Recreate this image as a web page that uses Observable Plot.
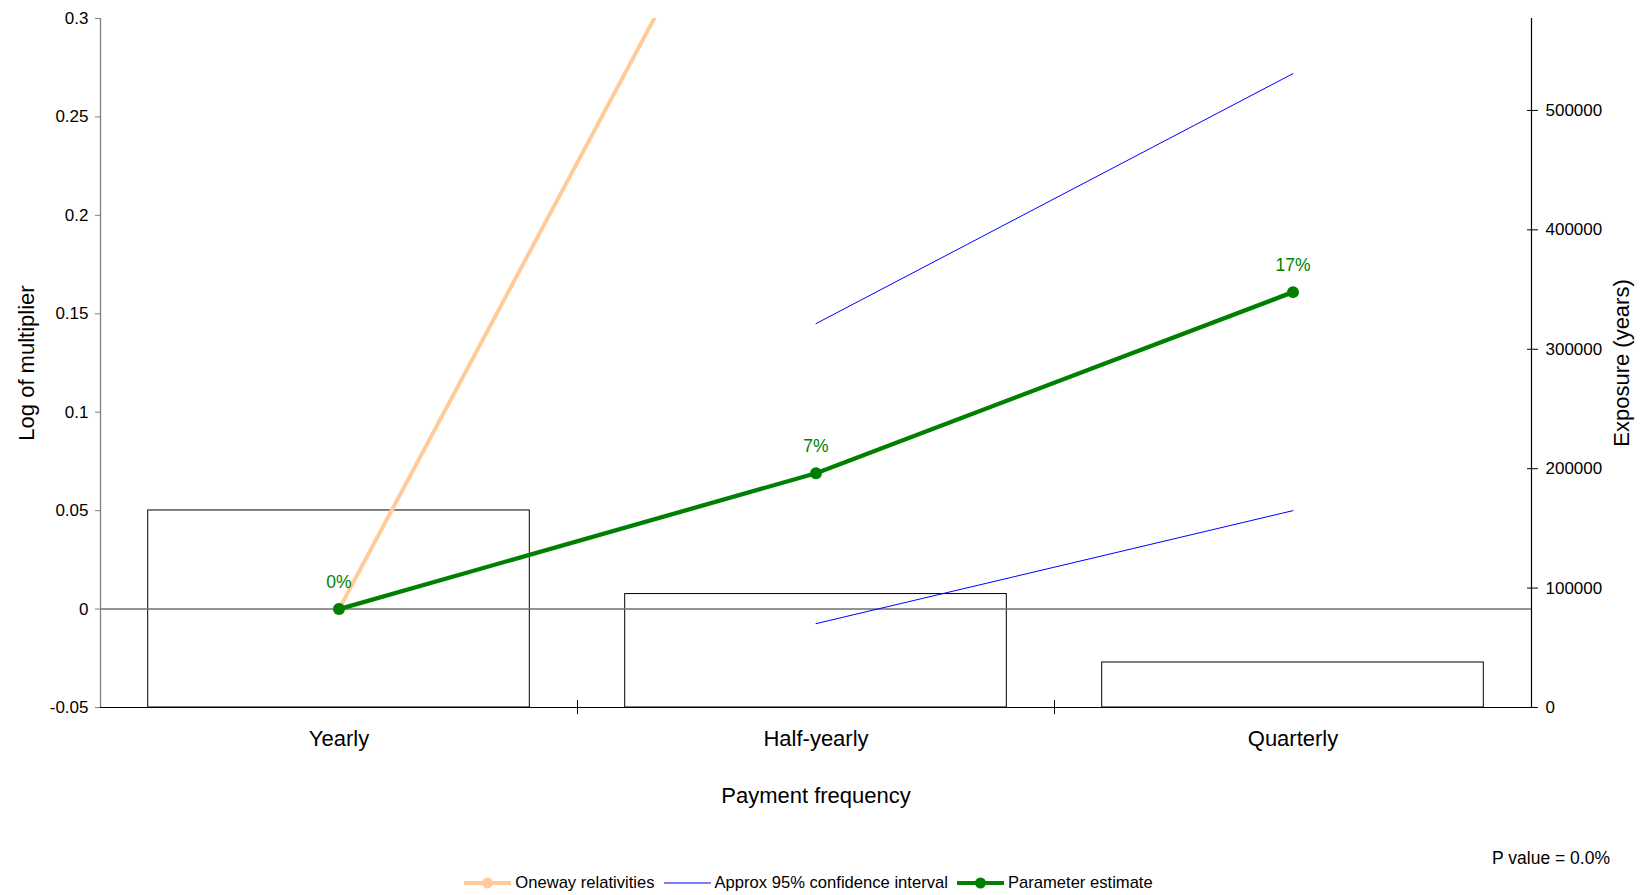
<!DOCTYPE html>
<html>
<head>
<meta charset="utf-8">
<script src="https://cdn.jsdelivr.net/npm/d3@7"></script>
<script src="https://cdn.jsdelivr.net/npm/@observablehq/plot@0.6"></script>
<style>
  body { margin: 0; background: #fff; font-family: "Liberation Sans", Arial, sans-serif; }
  #wrap { position: relative; width: 1642px; height: 895px; overflow: hidden; }
  #chart { position: absolute; left: 0; top: 0; }
  #legend { position: absolute; left: 0; top: 872px; width: 1626px; height: 22px;
            display: flex; justify-content: center; align-items: center; font-size: 16.6px; color: #000; }
  #legend .item { display: flex; align-items: center; margin-right: 9px; }
  #legend svg { margin-right: 4px; }
  #pvalue { position: absolute; right: 32px; top: 848px; font-size: 17.5px; color: #000; }
</style>
</head>
<body>
<div id="wrap">
  <div id="chart"></div>
  <div id="pvalue">P value = 0.0%</div>
  <div id="legend"></div>
</div>
<script>
// ---- data ----
const categories = ["Yearly", "Half-yearly", "Quarterly"];
const exposure = [165000, 95000, 37700];
const parameterEstimate = [0, 0.069, 0.161];
const paramLabels = ["0%", "7%", "17%"];
const ciLower = [null, -0.0074, 0.05];
const ciUpper = [null, 0.145, 0.272];
const onewayRel = [0, 0.454, 0.62];
const leftTicks = [-0.05, 0, 0.05, 0.1, 0.15, 0.2, 0.25, 0.3];
const rightTicks = [0, 100000, 200000, 300000, 400000, 500000];
const seriesNames = ["Oneway relativities", "Approx 95% confidence interval", "Parameter estimate"];
const seriesColors = ["#FFCC99", "#0000FF", "#008000"];

// ---- scales helpers ----
const yMin = -0.05, yMax = 0.3;
const expMax = 577000;
const toY = e => yMin + e / expMax * (yMax - yMin);
const fromY = y => (y - yMin) / (yMax - yMin) * expMax;

const rows = categories.map((c, i) => ({
  c, i, exp: exposure[i], pe: parameterEstimate[i], lab: paramLabels[i],
  lo: ciLower[i], hi: ciUpper[i], ow: onewayRel[i]
}));
const pos = d => d.i + 0.5;
const ciRows = rows.filter(d => d.lo != null);

const plot = Plot.plot({
  width: 1642,
  height: 845,
  marginTop: 18,
  marginBottom: 138,
  marginLeft: 100,
  marginRight: 111,
  style: { fontFamily: "Liberation Sans, Arial, sans-serif", background: "white", color: "black" },
  x: { domain: [0, categories.length], label: null },
  y: { domain: [yMin, yMax], label: null },
  marks: [
    Plot.rectY(rows, { x1: d => d.i + 0.1, x2: d => d.i + 0.9, y1: () => yMin, y2: d => toY(d.exp),
                       fill: "white", stroke: "black", strokeWidth: 1 }),
    Plot.ruleY([0], { stroke: "#707070", strokeWidth: 1.5 }),
    Plot.ruleY([yMin], { stroke: "black", strokeWidth: 1.2 }),
    Plot.ruleX([0], { stroke: "#808080", strokeWidth: 1.3 }),
    Plot.ruleX([categories.length], { stroke: "black", strokeWidth: 1.2 }),
    // left axis
    Plot.axisY({ ticks: leftTicks, tickFormat: d => String(d), tickSize: 5, tickPadding: 7,
                 fontSize: 17, label: null, stroke: "#808080" }),
    // right axis crossing ticks and labels
    Plot.axisY({ anchor: "right", ticks: rightTicks.map(toY), tickSize: 11, dx: -5,
                 tickFormat: () => "", label: null }),
    Plot.axisY({ anchor: "right", ticks: rightTicks.map(toY), tickSize: 0, tickPadding: 14,
                 tickFormat: y => String(Math.round(fromY(y) / 1000) * 1000), fontSize: 17, label: null }),
    // x axis
    Plot.axisX({ ticks: categories.map((c, i) => i + 0.5), tickFormat: v => categories[Math.floor(v)],
                 tickSize: 0, tickPadding: 23, fontSize: 22, label: null }),
    Plot.axisX({ ticks: d3.range(1, categories.length), tickFormat: () => "", tickSize: 14, dy: -7, label: null }),
    // series
    Plot.lineY(rows, { x: pos, y: "ow", stroke: seriesColors[0], strokeWidth: 4, clip: true }),
    Plot.dot(rows, { x: pos, y: "ow", r: 6, fill: seriesColors[0], clip: true }),
    Plot.lineY(ciRows, { x: pos, y: "lo", stroke: seriesColors[1], strokeWidth: 1 }),
    Plot.lineY(ciRows, { x: pos, y: "hi", stroke: seriesColors[1], strokeWidth: 1 }),
    Plot.lineY(rows, { x: pos, y: "pe", stroke: seriesColors[2], strokeWidth: 4.3 }),
    Plot.dot(rows, { x: pos, y: "pe", r: 6, fill: seriesColors[2] }),
    Plot.text(rows, { x: pos, y: "pe", text: "lab", dy: -27, fill: seriesColors[2], fontSize: 17.5 }),
    // axis titles
    Plot.text(["Log of multiplier"], { frameAnchor: "left", dx: -74, rotate: -90, textAnchor: "middle",
                                       lineAnchor: "middle", fontSize: 22 }),
    Plot.text(["Exposure (years)"], { frameAnchor: "right", dx: 90, rotate: -90, textAnchor: "middle",
                                      lineAnchor: "middle", fontSize: 22 }),
    Plot.text(["Payment frequency"], { frameAnchor: "bottom", dy: 88, textAnchor: "middle",
                                       lineAnchor: "middle", fontSize: 22 })
  ]
});
document.getElementById("chart").appendChild(plot);

// ---- legend ----
const legend = d3.select("#legend");
seriesNames.forEach((name, k) => {
  const item = legend.append("div").attr("class", "item");
  const sw = item.append("svg").attr("width", 47).attr("height", 14);
  sw.append("line").attr("x1", 0).attr("x2", 47).attr("y1", 7).attr("y2", 7)
    .attr("stroke", seriesColors[k]).attr("stroke-width", k === 1 ? 1 : 4);
  if (k !== 1) sw.append("circle").attr("cx", 23.5).attr("cy", 7).attr("r", 5.5).attr("fill", seriesColors[k]);
  item.append("span").text(name);
});
</script>
</body>
</html>
